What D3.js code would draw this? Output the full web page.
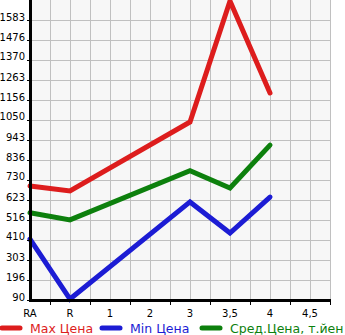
<!DOCTYPE html>
<html>
<head>
<meta charset="utf-8">
<script src="https://cdn.jsdelivr.net/npm/d3@7"></script>
<style>
  body { margin: 0; background: #fff; }
  svg { display: block; font-family: "DejaVu Sans", sans-serif; }
</style>
</head>
<body>
<div id="chart"></div>
<script>
// categories on the x axis and the y tick labels
const categories = ["RA", "R", "1", "2", "3", "3,5", "4", "4,5"];
const yTicks = [90, 196, 303, 410, 516, 623, 730, 836, 943, 1050, 1156, 1263, 1370, 1476, 1583];

// series (category, value)
const maxCats = ["RA", "R", "3", "3,5", "4"];
const maxVals = [698, 671, 1039, 1684, 1194];
const minCats = ["RA", "R", "3", "3,5", "4"];
const minVals = [415, 95, 613, 447, 639];
const avgCats = ["RA", "R", "3", "3,5", "4"];
const avgVals = [555, 517, 779, 687, 916];

const series = [
  { name: "Max Цена", color: "#dd1d1d", cats: maxCats, vals: maxVals },
  { name: "Min Цена", color: "#1c1cd4", cats: minCats, vals: minVals },
  { name: "Сред.Цена, т.йен", color: "#0d800d", cats: avgCats, vals: avgVals }
];

const width = 345, height = 335;
const plotL = 31, plotR = 330, plotT = 0, plotB = 300;

const svg = d3.select("#chart").append("svg")
  .attr("width", width)
  .attr("height", height);

// band centres sit at 30, 70, ... so the first one lies on the y axis
const x = d3.scaleBand().domain(categories).range([10, 330]);
const cx = c => x(c) + x.bandwidth() / 2;
const y = d3.scaleLinear().domain([90, 1583]).range([300, 20]);

svg.append("rect")
  .attr("x", plotL).attr("y", plotT)
  .attr("width", plotR - plotL).attr("height", plotB - plotT)
  .attr("fill", "#f7f7f7");

// grid: every half band vertically, every tick horizontally
const step = x.bandwidth() / 2;
const vLines = d3.range(plotL - 1 + step, plotR + 1, step);
svg.append("g").selectAll("line").data(vLines).enter().append("line")
  .attr("x1", d => d + 0.5).attr("x2", d => d + 0.5)
  .attr("y1", plotT).attr("y2", plotB)
  .attr("stroke", "#c0c0c0").attr("stroke-width", 1);

svg.append("g").selectAll("line").data(yTicks.slice(1)).enter().append("line")
  .attr("x1", plotL).attr("x2", plotR)
  .attr("y1", d => Math.round(y(d)) + 0.5).attr("y2", d => Math.round(y(d)) + 0.5)
  .attr("stroke", "#c0c0c0").attr("stroke-width", 1);

// lines
const line = d3.line()
  .x(d => cx(d[0]))
  .y(d => y(d[1]));

svg.append("clipPath").attr("id", "clip").append("rect")
  .attr("x", 0).attr("y", plotT).attr("width", plotR).attr("height", plotB - plotT + 3);

series.forEach(s => {
  svg.append("path")
    .datum(s.cats.map((c, i) => [c, s.vals[i]]))
    .attr("d", line)
    .attr("fill", "none")
    .attr("stroke", s.color)
    .attr("stroke-width", 5)
    .attr("stroke-linecap", "round")
    .attr("stroke-linejoin", "miter")
    .attr("clip-path", "url(#clip)");
});

// y axis
const yAxis = svg.append("g");
yAxis.append("line")
  .attr("x1", plotL - 0.5).attr("x2", plotL - 0.5)
  .attr("y1", plotT).attr("y2", plotB + 1)
  .attr("stroke", "#000").attr("stroke-width", 3);
yAxis.selectAll("line.tick").data(yTicks).enter().append("line")
  .attr("class", "tick")
  .attr("x1", 27).attr("x2", plotL)
  .attr("y1", d => Math.round(y(d)) + 0.5).attr("y2", d => Math.round(y(d)) + 0.5)
  .attr("stroke", "#000");
yAxis.selectAll("text").data(yTicks).enter().append("text")
  .attr("x", 25)
  .attr("y", d => y(d) + 0.5)
  .attr("text-anchor", "end")
  .attr("font-size", 10)
  .attr("fill", "#000")
  .text(d => d);

// x axis
const xAxis = svg.append("g");
xAxis.append("line")
  .attr("x1", plotL - 2).attr("x2", plotR + 1)
  .attr("y1", plotB + 0.5).attr("y2", plotB + 0.5)
  .attr("stroke", "#000").attr("stroke-width", 3);
xAxis.selectAll("line.tick").data(categories.slice(1).map(c => x(c)).concat([plotR])).enter().append("line")
  .attr("class", "tick")
  .attr("x1", d => d + 0.5).attr("x2", d => d + 0.5)
  .attr("y1", plotB).attr("y2", plotB + 5)
  .attr("stroke", "#000");
xAxis.selectAll("text").data(categories).enter().append("text")
  .attr("x", d => cx(d))
  .attr("y", 317)
  .attr("text-anchor", "middle")
  .attr("font-size", 10)
  .attr("fill", "#000")
  .text(d => d);

// legend
const legendX = [30, 130, 230];
const legend = svg.append("g");
series.forEach((s, i) => {
  legend.append("line")
    .attr("x1", legendX[i] - 28).attr("x2", legendX[i] - 10)
    .attr("y1", 328).attr("y2", 328)
    .attr("stroke", s.color).attr("stroke-width", 5)
    .attr("stroke-linecap", "round");
  legend.append("text")
    .attr("x", legendX[i])
    .attr("y", 333)
    .attr("font-size", 12.5)
    .attr("fill", s.color)
    .text(s.name);
});
</script>
</body>
</html>
